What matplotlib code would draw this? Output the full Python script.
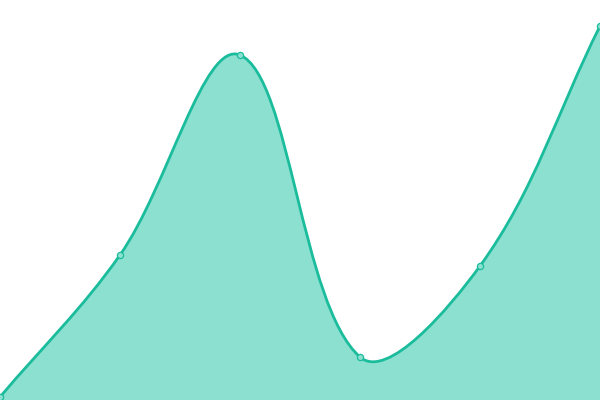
import numpy as np
import matplotlib
matplotlib.use("Agg")
import matplotlib.pyplot as plt
from matplotlib.path import Path
from matplotlib.patches import PathPatch

categories = ["A", "B", "C", "D", "E", "F"]
values = [3, 145, 345, 43, 134, 374]

LINE = "#1abc9c"
FILL = "#8be0d0"

fig = plt.figure(figsize=(6, 4), dpi=100)
ax = fig.add_axes([0, 0, 1, 1])
ax.set_xlim(0, len(categories) - 1)
ax.set_ylim(0, 400)
ax.axis("off")

xs = np.arange(len(categories), dtype=float)
pts_data = np.column_stack([xs, values])
pts = ax.transData.transform(pts_data)

smooth = 0.36
n = len(pts)
cp0 = np.zeros_like(pts)
cp1 = np.zeros_like(pts)
for i in range(n):
    p = pts[i]
    prev = pts[i - 1] if i > 0 else p
    nxt = pts[i + 1] if i < n - 1 else p
    v = nxt - prev
    lp = np.hypot(*(p - prev))
    ln = np.hypot(*(nxt - p))
    s = lp + ln
    if s > 0:
        lp /= s
        ln /= s
    cp0[i] = p - v * smooth * lp
    cp1[i] = p + v * smooth * ln

verts = [pts[0]]
codes = [Path.MOVETO]
for i in range(n - 1):
    verts += [cp1[i], cp0[i + 1], pts[i + 1]]
    codes += [Path.CURVE4] * 3

inv = ax.transData.inverted()
verts_d = inv.transform(np.array(verts))

line_path = Path(verts_d, codes)
fill_verts = list(verts_d) + [[xs[-1], 0], [xs[0], 0], verts_d[0]]
fill_codes = codes + [Path.LINETO, Path.LINETO, Path.CLOSEPOLY]
fill_path = Path(fill_verts, fill_codes)

ax.add_patch(PathPatch(fill_path, facecolor=FILL, edgecolor="none", zorder=1))
ax.add_patch(PathPatch(line_path, facecolor="none", edgecolor=LINE, lw=2.0, zorder=2))
ax.scatter(xs, values, s=20, facecolor=FILL, edgecolor=LINE, linewidths=0.9, zorder=3)

fig.savefig("out.png", dpi=100)
